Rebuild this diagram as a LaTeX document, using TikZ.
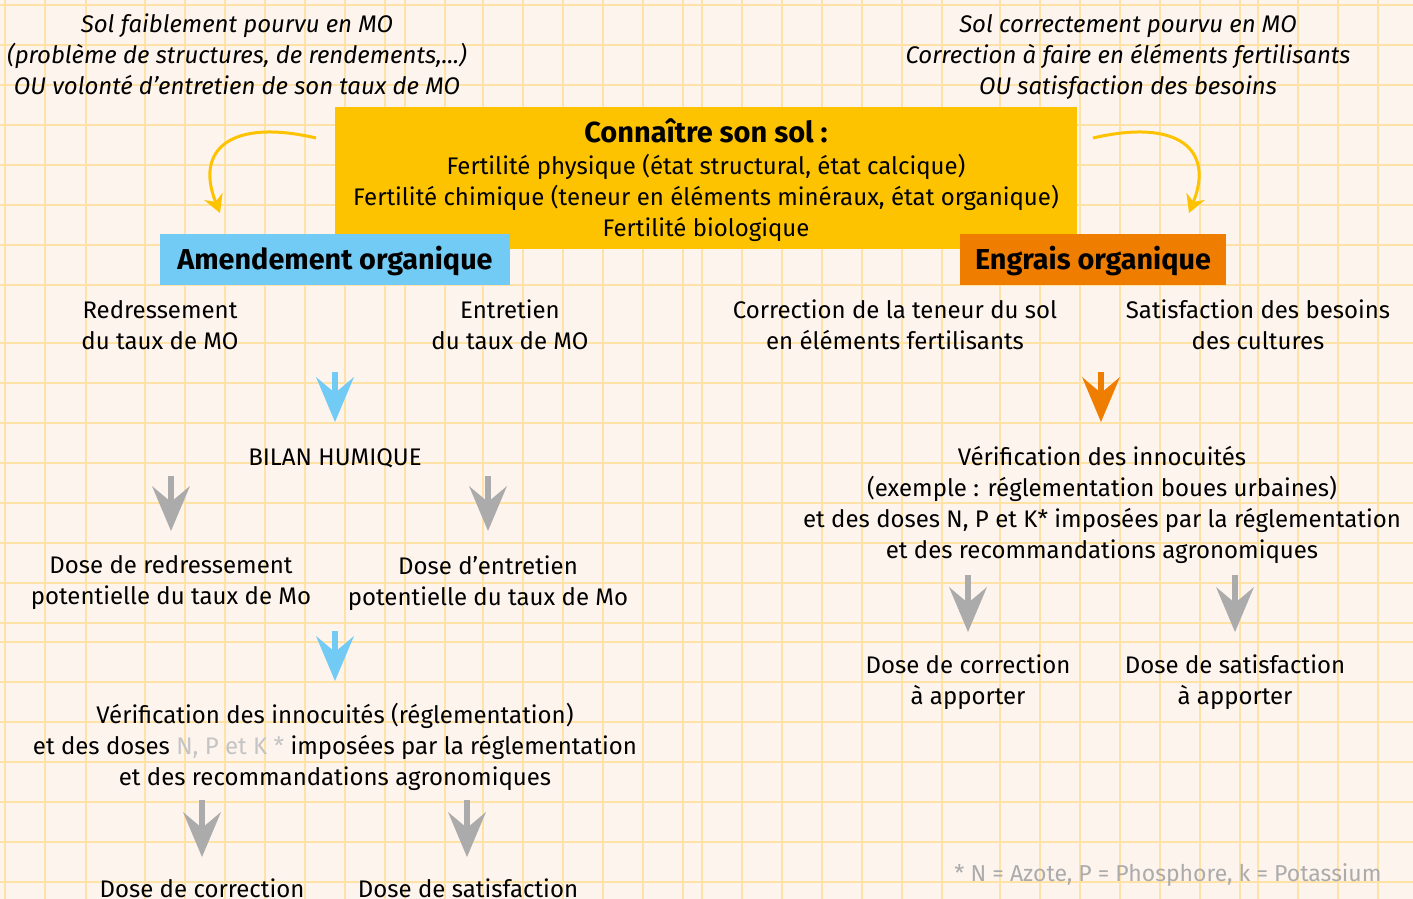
\documentclass[tikz,border=0pt]{standalone}
\usepackage{fontspec}
\setmainfont{Fira Sans}
\usetikzlibrary{arrows.meta}
\definecolor{bg}{HTML}{FEF4EE}
\definecolor{gridc}{HTML}{FFE2A6}
\definecolor{jaune}{HTML}{FDC300}
\definecolor{bleu}{HTML}{72CBF4}
\definecolor{orng}{HTML}{EF7D00}
\definecolor{gris}{HTML}{ABABAB}
\definecolor{grisclair}{HTML}{C4C4C4}
\begin{document}
\begin{tikzpicture}[x=0.5pt,y=-0.5pt,
  txt/.style={align=center, inner sep=0pt, font=\fontsize{12}{15.5}\selectfont},
  ital/.style={align=center, inner sep=0pt, font=\fontsize{12}{15.5}\selectfont\itshape},
  bigarr/.style={line width=3pt, -{Stealth[length=22.5pt,width=19pt,inset=8pt,line width=0pt]}},
  curvarr/.style={draw=jaune, line width=1.5pt, -{Stealth[length=9pt,width=10pt,inset=3pt,line width=0pt]}},
  titlebox/.style={inner sep=0pt, font=\fontsize{14.4}{17}\selectfont\bfseries}
]
\fill[bg] (0,0) rectangle (1413,899);
\useasboundingbox (0,0) rectangle (1413,899);
\foreach \gx in {5,45,86,145,185,225,265,305,345,385,405,445,483,523,563,603,643,683,702,742,782,822,862,902,942,1000,1040,1080,1120,1160,1200,1240,1258,1298,1338,1378}
  \draw[gridc, line width=1.2pt] (\gx,0) -- (\gx,899);
\foreach \gy in {5,45,85,125,165,205,245,285,343,383,423,463,503,543,583,623,642,682,722,762,802,842,882}
  \draw[gridc, line width=1.2pt] (0,\gy) -- (1413,\gy);

% top texts
\node[ital] (tl) at (237,54) {Sol faiblement pourvu en MO\\(problème de structures, de rendements,...)\\OU volonté d’entretien de son taux de MO};
\node[ital] (tr) at (1128,57) {Sol correctement pourvu en MO\\Correction à faire en éléments fertilisants\\OU satisfaction des besoins};

% main box
\node[fill=jaune, minimum width=371pt, minimum height=71pt, inner sep=0pt] (sol) at (706,178) {};
\node[align=center, inner sep=0pt, font=\fontsize{12}{15.5}\selectfont] (soltxt) at (706,180)
  {{\fontsize{14.5}{17}\selectfont\bfseries Connaître son sol :}\\[0.5pt]Fertilité physique (état structural, état calcique)\\Fertilité chimique (teneur en éléments minéraux, état organique)\\Fertilité biologique};

\node[fill=bleu, minimum width=175pt, minimum height=25.5pt, inner sep=0pt] (amend) at (335,259.5) {};
\node[titlebox] (amendtxt) at (335,261) {Amendement organique};
\node[fill=orng, minimum width=133pt, minimum height=25.5pt, inner sep=0pt] (engrais) at (1093,259.5) {};
\node[titlebox] (engraistxt) at (1093,261) {Engrais organique};

% curved arrows
\coordinate (cl0) at (316,138);
\coordinate (cl1) at (220,213);
\coordinate (cr0) at (1093,138);
\coordinate (cr1) at (1189,213);
\draw[curvarr] (cl0) .. controls (230,118) and (195,150) .. (cl1);
\draw[curvarr] (cr0) .. controls (1179,118) and (1214,150) .. (cr1);

% left branch
\node[txt] (redr) at (160,325) {Redressement\\du taux de MO};
\node[txt] (entr) at (510,325) {Entretien\\du taux de MO};
\node[txt] (bilan) at (335,458) {BILAN HUMIQUE};
\node[txt] (dredr) at (171,583) {Dose de redressement\\potentielle du taux de Mo};
\node[txt] (dentr) at (488,583) {Dose d’entretien\\potentielle du taux de Mo};
\node[txt] (verifl) at (335,747) {Vérification des innocuités (réglementation)\\et des doses {\color{grisclair}N, P et K *} imposées par la réglementation\\et des recommandations agronomiques};
\node[txt, anchor=north] (corrl) at (202,878) {Dose de correction};
\node[txt, anchor=north] (satl) at (468,878) {Dose de satisfaction};

% right branch
\node[txt] (corr) at (895,325) {Correction de la teneur du sol\\en éléments fertilisants};
\node[txt] (satis) at (1258,325) {Satisfaction des besoins\\des cultures};
\node[txt] (verifr) at (1102,505) {Vérification des innocuités\\(exemple : réglementation boues urbaines)\\et des doses N, P et K* imposées par la réglementation\\et des recommandations agronomiques};
\node[txt] (corrr) at (968,682) {Dose de correction\\à apporter};
\node[txt] (satr) at (1235,682) {Dose de satisfaction\\à apporter};

\node[txt, text=gris, font=\fontsize{11.5}{13}\selectfont] (foot) at (1168,875) {* N = Azote, P = Phosphore, k = Potassium};

% straight arrows
\coordinate (b1s) at (335,372); \coordinate (b1e) at (335,422);
\coordinate (o1s) at (1101,372); \coordinate (o1e) at (1101,422);
\coordinate (g1s) at (171,476); \coordinate (g1e) at (171,531);
\coordinate (g2s) at (488,476); \coordinate (g2e) at (488,531);
\coordinate (b2s) at (335,631); \coordinate (b2e) at (335,681);
\coordinate (g3s) at (202,800); \coordinate (g3e) at (202,857);
\coordinate (g4s) at (467,800); \coordinate (g4e) at (467,857);
\coordinate (g5s) at (968,575); \coordinate (g5e) at (968,632);
\coordinate (g6s) at (1235,575); \coordinate (g6e) at (1235,632);
\draw[bigarr, bleu] (b1s) -- (b1e);
\draw[bigarr, orng] (o1s) -- (o1e);
\draw[bigarr, gris] (g1s) -- (g1e);
\draw[bigarr, gris] (g2s) -- (g2e);
\draw[bigarr, bleu] (b2s) -- (b2e);
\draw[bigarr, gris] (g3s) -- (g3e);
\draw[bigarr, gris] (g4s) -- (g4e);
\draw[bigarr, gris] (g5s) -- (g5e);
\draw[bigarr, gris] (g6s) -- (g6e);
\end{tikzpicture}
\end{document}
